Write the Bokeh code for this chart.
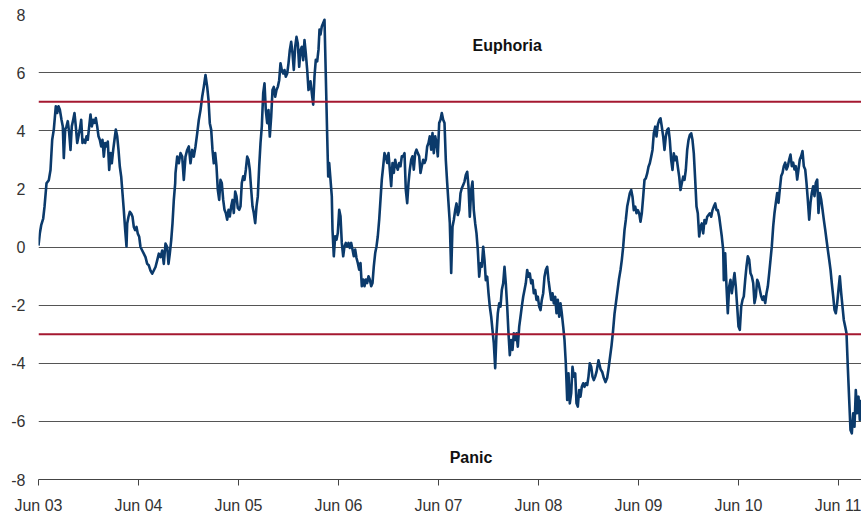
from bokeh.plotting import figure
from bokeh.models import Range1d, FixedTicker, Span, ColumnDataSource
from bokeh.core.properties import value
from bokeh.embed import file_html
from bokeh.resources import INLINE

# x: years since June 2003 ; y: index value
t_vals = [
0.000,0.013,0.027,0.047,0.060,0.080,0.103,0.120,0.137,0.153,0.173,0.187,0.200,0.213,0.230,0.243,0.253,0.267,0.280,0.293,
0.307,0.320,0.333,0.347,0.360,0.373,0.387,0.400,0.413,0.427,0.440,0.453,0.467,0.480,0.493,0.507,0.520,0.533,0.547,0.560,
0.573,0.587,0.600,0.613,0.627,0.640,0.653,0.667,0.680,0.693,0.707,0.720,0.733,0.747,0.760,0.773,0.787,0.800,0.813,0.827,
0.840,0.853,0.867,0.880,0.887,0.900,0.913,0.927,0.940,0.953,0.967,0.980,0.993,1.007,1.020,1.037,1.053,1.070,1.087,1.103,
1.120,1.137,1.153,1.170,1.187,1.203,1.220,1.237,1.253,1.270,1.287,1.300,1.313,1.327,1.340,1.353,1.367,
1.370,1.387,1.403,1.420,1.437,1.453,1.470,1.487,1.503,1.520,1.537,1.553,1.570,1.587,1.603,1.620,1.637,1.653,1.670,1.687,
1.700,1.713,1.727,1.740,1.753,1.767,1.780,1.793,1.807,1.820,1.833,1.847,1.860,1.873,1.887,1.900,1.913,1.927,1.940,1.953,
1.967,1.980,1.993,2.007,2.020,2.033,2.047,2.060,2.073,2.087,2.100,2.113,2.127,2.140,2.153,2.167,2.180,2.193,2.207,2.220,
2.233,2.247,2.260,2.273,2.287,2.300,2.313,2.327,2.340,2.353,2.367,2.380,2.393,2.407,2.420,2.433,2.447,2.460,2.473,2.487,
2.500,2.513,2.527,2.540,2.553,2.567,2.580,2.593,2.607,2.620,2.633,2.647,2.660,2.673,2.687,2.700,2.713,
2.720,2.737,2.747,2.760,2.773,2.787,2.800,2.810,2.820,2.833,2.847,2.860,2.867,2.877,2.887,2.897,2.907,2.920,2.933,2.940,
2.953,2.967,2.980,2.993,3.007,3.020,3.033,3.047,3.060,3.073,3.087,3.100,3.113,3.127,3.140,3.153,3.167,3.180,3.193,3.207,
3.220,3.233,3.247,3.260,3.273,3.287,3.300,3.313,3.327,3.340,3.353,3.367,3.380,3.393,3.407,3.420,3.433,3.447,3.460,3.473,
3.487,3.500,3.513,3.527,3.540,3.553,3.567,3.580,3.593,3.607,3.620,3.633,3.647,3.660,3.673,3.687,3.700,3.713,3.727,3.740,
3.753,3.767,3.780,3.793,3.807,3.820,3.833,3.847,3.860,3.873,3.887,3.900,3.913,3.927,3.940,3.953,3.967,3.980,3.993,4.007,
4.020,4.033,4.047,4.060,4.073,4.087,4.100,4.113,4.127,
4.140,4.153,4.167,4.180,4.193,4.207,4.220,4.233,4.247,4.260,4.273,4.287,4.300,4.313,4.327,4.340,4.353,4.367,4.380,4.393,
4.407,4.420,4.433,4.447,4.460,4.473,4.487,4.500,4.513,4.527,4.540,4.553,4.567,4.580,4.593,4.607,4.620,4.633,4.647,4.660,
4.673,4.687,4.700,4.713,4.727,4.740,4.753,4.767,4.780,4.793,4.807,4.820,4.833,4.847,4.860,4.873,4.887,4.900,4.913,4.927,
4.940,4.953,4.967,4.980,4.993,5.007,5.020,5.033,5.047,5.060,5.073,5.087,5.100,5.113,5.127,5.140,5.153,5.167,5.180,5.193,
5.207,5.220,5.233,5.247,5.260,5.273,5.287,5.300,5.313,5.327,5.340,5.353,5.367,5.380,5.393,5.407,5.420,5.433,5.447,5.460,
5.473,5.487,5.500,5.513,5.527,5.540,5.553,5.567,5.580,5.600,5.620,5.637,5.653,5.670,5.687,5.700,5.713,5.730,5.745,5.760,
5.775,5.790,5.805,5.820,5.833,5.847,5.860,5.873,5.887,5.900,5.913,5.927,5.940,5.953,5.967,5.980,5.993,6.007,6.020,6.033,
6.047,6.060,6.073,6.087,6.100,6.113,6.127,6.140,6.153,6.167,6.180,6.193,6.207,6.220,6.233,6.247,6.260,6.273,6.287,6.300,
6.313,6.327,6.340,6.353,6.367,6.380,6.393,6.407,6.420,6.433,6.447,6.460,6.473,6.487,6.500,6.513,6.527,6.540,6.553,6.567,
6.580,6.593,6.607,6.620,6.633,6.647,6.660,6.673,6.687,6.700,6.713,6.727,6.740,6.753,6.767,6.780,6.793,6.807,6.820,6.833,
6.847,6.853,6.867,6.880,6.893,6.907,6.920,6.933,6.947,6.960,6.973,6.987,7.000,7.013,7.027,7.040,7.053,7.067,7.080,7.093,
7.107,7.120,7.133,7.147,7.160,7.173,7.187,7.200,7.213,7.227,7.240,7.253,7.267,7.280,7.293,7.307,7.320,7.333,7.347,7.360,
7.373,7.387,7.400,7.413,7.427,7.440,7.453,7.467,7.480,7.493,7.507,7.520,7.533,7.547,7.560,7.573,7.587,7.600,7.613,7.627,
7.640,7.653,7.667,7.680,7.693,7.707,7.720,7.733,7.747,7.760,7.773,7.787,7.800,7.813,7.827,7.840,7.853,7.867,7.880,7.893,
7.907,7.920,7.933,7.947,7.960,7.973,7.987,8.000,8.013,8.027,8.040,8.053,8.067,8.080,8.093,8.107,8.120,8.133,8.147,8.160,
8.173,8.187,8.200,8.213,8.227,
]

index_vals = [
0.05,0.46,0.75,0.98,1.38,2.19,2.30,2.65,3.69,4.04,4.84,4.61,4.84,4.73,4.38,4.15,3.06,4.04,4.15,4.33,
3.92,3.34,4.15,4.38,4.61,4.15,3.58,3.81,4.04,4.38,3.58,3.69,3.58,3.81,3.69,4.15,4.56,4.15,4.38,4.27,
4.44,4.15,3.81,3.69,3.46,3.69,3.11,3.58,3.46,3.63,2.65,3.23,2.88,3.34,3.69,4.04,3.81,3.34,2.77,2.42,
1.85,1.27,0.58,0.02,0.81,1.04,1.21,1.15,1.04,0.69,0.58,0.69,0.46,0.35,0.00,-0.12,-0.23,-0.35,-0.58,-0.63,
-0.81,-0.92,-0.81,-0.69,-0.46,-0.23,-0.35,-0.12,-0.58,0.12,0.00,-0.58,-0.23,0.23,0.81,1.61,2.20,
2.54,3.11,2.88,3.23,3.11,2.31,3.11,3.34,3.46,2.88,3.34,3.11,3.46,3.91,4.37,4.71,5.17,5.51,5.92,5.51,
5.06,4.26,4.03,3.34,2.88,3.23,2.77,1.97,1.62,2.31,2.20,1.62,1.28,1.17,0.94,1.28,1.05,1.40,1.62,1.17,
1.91,1.74,1.34,1.28,1.40,2.20,2.43,2.31,2.65,3.11,3.00,2.65,1.97,1.40,1.17,0.82,1.40,1.74,2.77,3.57,
4.14,5.29,5.63,4.71,4.26,4.71,3.80,4.49,5.40,5.51,5.17,5.40,5.51,5.74,6.32,6.09,5.97,6.09,5.86,5.97,
6.32,6.77,7.06,6.66,6.09,6.89,7.23,7.00,6.20,6.77,6.89,6.43,7.12,6.66,6.09,5.40,5.51,
5.70,5.18,4.90,5.87,6.44,6.39,6.79,7.48,7.31,7.59,7.71,7.82,6.79,5.30,3.81,2.43,2.89,2.32,1.74,0.60,
-0.32,0.37,0.25,0.48,1.28,1.06,0.14,-0.32,0.02,0.14,0.02,0.14,-0.03,0.14,-0.09,-0.32,-0.09,-0.38,-0.55,-0.78,
-0.55,-1.35,-1.12,-1.35,-1.12,-1.24,-1.01,-1.12,-1.35,-1.24,-0.67,-0.21,0.02,0.37,0.94,1.63,2.32,2.78,3.23,3.12,
2.89,3.23,2.66,2.09,2.89,2.55,3.00,2.78,2.66,2.89,2.78,3.12,3.12,3.23,1.97,1.51,2.20,2.66,3.00,3.12,
2.66,3.23,3.35,3.23,3.12,2.55,2.78,3.00,2.89,3.00,3.46,3.58,3.81,3.35,3.92,3.23,3.81,3.58,3.12,4.27,
4.38,4.61,4.38,4.27,3.00,2.20,1.51,0.83,-0.89,
0.70,0.93,1.27,1.50,1.10,1.27,1.85,2.02,2.13,2.25,2.48,2.59,2.08,1.04,1.96,2.25,1.27,0.81,0.47,-0.10,
-1.02,-0.56,-0.68,0.01,-0.45,-1.14,-1.02,-1.59,-2.05,-2.40,-2.86,-3.31,-4.17,-2.97,-2.28,-1.94,-2.05,-1.48,-1.25,-0.68,
-1.25,-2.05,-2.97,-3.72,-3.20,-3.54,-2.97,-3.20,-2.97,-3.43,-2.74,-2.40,-2.05,-1.71,-1.48,-1.25,-0.79,-1.02,-0.91,-1.25,
-1.14,-1.59,-1.48,-1.82,-1.71,-2.05,-2.17,-1.82,-1.59,-1.02,-0.79,-0.68,-1.14,-1.48,-1.82,-1.59,-1.94,-1.71,-2.28,-1.82,
-2.40,-1.94,-2.28,-2.74,-3.20,-4.00,-5.26,-4.35,-5.38,-5.03,-4.12,-4.46,-4.35,-5.38,-5.49,-4.92,-5.15,-4.81,-4.69,-4.81,
-4.69,-4.75,-4.46,-4.00,-4.12,-4.46,-4.58,-4.46,-4.30,-3.90,-4.20,-4.30,-4.50,-4.65,-4.50,-4.20,-3.85,-3.40,-2.90,-2.30,
-1.90,-1.50,-1.10,-0.79,-0.45,0.01,0.58,0.93,1.39,1.62,1.85,1.96,1.73,1.27,1.39,1.16,1.27,1.16,0.87,1.16,
1.73,2.31,2.36,2.53,2.76,2.88,3.11,3.34,3.91,4.14,3.80,4.20,4.37,4.43,4.14,3.80,3.34,3.80,4.03,4.08,
3.68,2.99,2.65,3.22,2.99,3.11,2.76,2.42,1.96,2.19,2.42,2.31,2.65,3.34,3.68,3.85,3.91,3.68,3.22,2.31,
1.39,1.16,0.36,0.70,0.81,0.47,0.93,0.81,1.04,1.10,1.16,1.04,1.27,1.39,1.50,1.27,1.27,1.04,0.70,0.36,
-0.10,-1.14,-0.22,-1.36,-2.28,-1.36,-1.13,-1.59,-1.24,-0.90,-1.36,-2.05,-2.74,-2.85,-2.05,-1.82,-1.70,-1.13,-0.67,-0.32,
-0.44,-0.90,-1.01,-1.24,-1.93,-1.70,-1.13,-1.24,-1.47,-1.70,-1.82,-1.70,-1.93,-1.59,-1.36,-0.90,-0.44,0.02,0.71,1.17,
1.52,1.86,1.52,1.98,2.44,2.55,2.78,2.90,2.67,2.78,3.01,3.18,2.78,2.90,2.67,2.78,2.32,2.67,3.01,3.13,
3.30,2.78,2.67,2.21,1.63,0.94,1.52,1.86,2.09,1.75,2.21,2.32,1.17,1.86,1.63,1.29,0.94,0.60,0.25,-0.09,
-0.44,-0.78,-1.24,-1.70,-2.16,-2.28,-1.93,-1.47,-1.01,-1.59,-2.05,-2.51,-2.74,-2.97,-4.12,-5.26,-6.30,-6.41,-5.72,-6.18,
-4.92,-5.72,-5.15,-5.95,-5.26,
]

tick_positions = [0, 1, 2, 3, 4, 5, 6, 7, 8]
tick_labels = ["Jun 03", "Jun 04", "Jun 05", "Jun 06", "Jun 07", "Jun 08", "Jun 09", "Jun 10", "Jun 11"]
y_ticks = [-8, -6, -4, -2, 0, 2, 4, 6, 8]
thresholds = [5, -3]
note_x = [4.687, 4.325]
note_y = [6.95, -7.26]
note_text = ["Euphoria", "Panic"]

n = min(len(t_vals), len(index_vals))
src = ColumnDataSource(dict(t=t_vals[:n], v=index_vals[:n]))

p = figure(width=861, height=517, output_backend="svg", toolbar_location=None,
           x_range=Range1d(0, 8.23), y_range=Range1d(-8, 8),
           min_border_left=38, min_border_right=0, min_border_top=14, min_border_bottom=38)
p.outline_line_color = None
p.background_fill_color = "white"
p.border_fill_color = "white"

# grid
p.xgrid.visible = False
p.ygrid.ticker = FixedTicker(ticks=y_ticks)
p.ygrid.grid_line_color = "#555555"
p.ygrid.grid_line_width = 1

# y axis
ya = p.yaxis[0]
ya.ticker = FixedTicker(ticks=y_ticks)
ya.major_label_overrides = {v: str(v) for v in y_ticks}
ya.axis_line_color = None
ya.major_tick_line_color = None
ya.minor_tick_line_color = None
ya.major_tick_out = 0
ya.major_tick_in = 0
ya.major_label_standoff = 13
ya.major_label_text_font = "Liberation Sans"
ya.major_label_text_font_size = "16px"
ya.major_label_text_color = "#333333"

# x axis
xa = p.xaxis[0]
xa.ticker = FixedTicker(ticks=tick_positions)
xa.major_label_overrides = {k: lab for k, lab in zip(tick_positions, tick_labels)}
xa.axis_line_color = "#444444"
xa.axis_line_width = 1
xa.major_tick_line_color = "#444444"
xa.major_tick_out = 6
xa.major_tick_in = 0
xa.minor_tick_line_color = None
xa.major_label_standoff = 11
xa.major_label_text_font = "Liberation Sans"
xa.major_label_text_font_size = "16px"
xa.major_label_text_color = "#333333"

for th in thresholds:
    p.add_layout(Span(location=th, dimension="width", line_color="#a51830", line_width=2))

p.line("t", "v", source=src, line_color="#0b3a6b", line_width=2.6, line_join="round")

p.text(x=note_x, y=note_y, text=note_text, text_align="center", text_baseline="middle",
       text_font=value("Liberation Sans"), text_font_style="bold", text_font_size="16px",
       text_color="#111111")

open("out.html", "w").write(file_html(p, INLINE))
